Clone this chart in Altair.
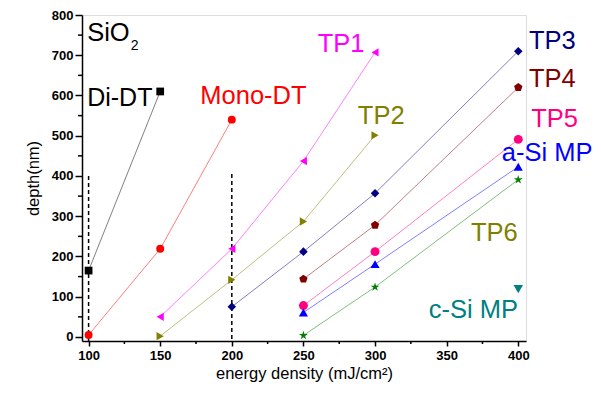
import altair as alt
import pandas as pd

# ---------------- data ----------------
series_names = ["Di-DT", "Mono-DT", "TP1", "TP2", "TP3", "TP4", "TP5", "a-Si MP", "TP6", "c-Si MP"]
series_colors = ["#000000", "#FF0000", "#FF00FF", "#808000", "#000080", "#800000",
                 "#FF0080", "#0000FF", "#008000", "#008080"]

di_x = [100, 150];                 di_y = [165, 610]
mono_x = [100, 150, 200];          mono_y = [5, 219, 540]
tp1_x = [150, 200, 250, 300];      tp1_y = [50, 219, 437, 707]
tp2_x = [150, 200, 250, 300];      tp2_y = [2, 142, 287, 501]
tp3_x = [200, 250, 300, 400];      tp3_y = [75, 212, 357, 710]
tp4_x = [250, 300, 400];           tp4_y = [144, 278, 620]
tp5_x = [250, 300, 400];           tp5_y = [78, 212, 491]
asi_x = [250, 300, 400];           asi_y = [61, 181, 423]
tp6_x = [250, 300, 400];           tp6_y = [4, 124, 391]
csi_x = [400];                     csi_y = [119]

all_x = [di_x, mono_x, tp1_x, tp2_x, tp3_x, tp4_x, tp5_x, asi_x, tp6_x, csi_x]
all_y = [di_y, mono_y, tp1_y, tp2_y, tp3_y, tp4_y, tp5_y, asi_y, tp6_y, csi_y]

# dashed reference lines
ref_x = [100, 200]
ref_top = [400, 405]

# labels
label_text = ["SiO", "2", "Di-DT", "Mono-DT", "TP1", "TP2", "TP3", "TP4", "TP5", "a-Si MP", "TP6", "c-Si MP"]
label_x = [99, 129.5, 99, 178, 260, 288, 407.5, 407.5, 409, 388.5, 367, 337.5]
label_y = [755, 722, 594, 598, 727, 549, 736, 640, 542, 458, 258, 68]
label_color = ["#000000", "#000000", "#000000", "#FF0000", "#FF00FF", "#808000", "#000080",
               "#800000", "#FF0080", "#0000FF", "#808000", "#008080"]
label_size = [25.5, 14, 25, 25.5, 25.5, 25.5, 25.5, 25.5, 25.5, 25.5, 25.5, 25.5]

x_major = [100, 150, 200, 250, 300, 350, 400]
x_minor = [125, 175, 225, 275, 325, 375]
y_major = [0, 100, 200, 300, 400, 500, 600, 700, 800]
y_minor = [50, 150, 250, 350, 450, 550, 650, 750]

# ---------------- frames ----------------
rows = []
for name, xs, ys in zip(series_names, all_x, all_y):
    for i, (a, b) in enumerate(zip(xs, ys)):
        rows.append({"series": name, "x": a, "y": b, "order": i})
df = pd.DataFrame(rows)

refs = pd.DataFrame({"x": ref_x, "top": ref_top})
labels = pd.DataFrame({"t": label_text, "x": label_x, "y": label_y, "c": label_color, "fs": label_size})
xmin = pd.DataFrame({"x": x_minor})
ymin = pd.DataFrame({"y": y_minor})

W, H = 444, 326
FONT = "Liberation Sans"

pentagon = "M0,-1L0.951,-0.309L0.588,0.809L-0.588,0.809L-0.951,-0.309Z"
star = ("M0,-1L0.2234,-0.3074L0.9511,-0.309L0.3614,0.1174L0.5878,0.809L0,0.38"
        "L-0.5878,0.809L-0.3614,0.1174L-0.9511,-0.309L-0.2234,-0.3074Z")
shapes = ["square", "circle", "triangle-left", "triangle-right", "diamond", pentagon,
          "circle", "triangle-up", star, "triangle-down"]
sizes = [60, 90, 90, 90, 110, 100, 90, 85, 130, 70]

xs = alt.Scale(domain=[95.4, 405.4], nice=False, zero=False)
ys = alt.Scale(domain=[-10, 800], nice=False, zero=False)
col = alt.Scale(domain=series_names, range=series_colors)

x_enc = alt.X("x:Q", scale=xs, title="energy density (mJ/cm²)",
              axis=alt.Axis(values=x_major, grid=False, tickSize=5, tickWidth=1.5, tickColor="black",
                            domainColor="black", domainWidth=1.5, labelFont=FONT, labelFontSize=13,
                            labelFontWeight="bold", labelColor="black", labelPadding=3,
                            titleFont=FONT, titleFontSize=16.5, titleFontWeight="normal",
                            titleColor="black", titlePadding=3))
y_enc = alt.Y("y:Q", scale=ys, title="depth(nm)",
              axis=alt.Axis(values=y_major, grid=False, tickSize=7, tickWidth=1.5, tickColor="black",
                            domainColor="black", domainWidth=1.5, labelFont=FONT, labelFontSize=13,
                            labelFontWeight="bold", labelColor="black", labelPadding=2,
                            titleFont=FONT, titleFontSize=16.5, titleFontWeight="normal",
                            titleColor="black", titlePadding=10))

lines = alt.Chart(df).mark_line(strokeWidth=1, opacity=0.5).encode(
    x=x_enc, y=y_enc,
    color=alt.Color("series:N", scale=col, legend=None),
    detail="series:N", order="order:Q")

points = alt.Chart(df).mark_point(filled=True, opacity=1, strokeWidth=0).encode(
    x=alt.X("x:Q", scale=xs), y=alt.Y("y:Q", scale=ys),
    color=alt.Color("series:N", scale=col, legend=None),
    shape=alt.Shape("series:N", scale=alt.Scale(domain=series_names, range=shapes), legend=None),
    size=alt.Size("series:N", scale=alt.Scale(domain=series_names, range=sizes), legend=None))

dashed = alt.Chart(refs).mark_rule(color="black", strokeWidth=1.5, strokeDash=[4, 3]).encode(
    x=alt.X("x:Q", scale=xs), y=alt.Y("top:Q", scale=ys), y2=alt.value(H))

texts = alt.Chart(labels).mark_text(align="left", baseline="middle", font=FONT).encode(
    x=alt.X("x:Q", scale=xs), y=alt.Y("y:Q", scale=ys), text="t:N",
    color=alt.Color("c:N", scale=None), size=alt.Size("fs:Q", scale=None))

xminor = alt.Chart(xmin).mark_rule(color="black", strokeWidth=1.5).encode(
    x=alt.X("x:Q", scale=xs), y=alt.value(H), y2=alt.value(H + 3))
yminor = alt.Chart(ymin).mark_rule(color="black", strokeWidth=1.5).encode(
    y=alt.Y("y:Q", scale=ys), x=alt.value(0), x2=alt.value(-4))

chart = alt.layer(lines, dashed, points, texts, xminor, yminor).properties(
    width=W, height=H,
    autosize=alt.AutoSizeParams(type="none"),
    padding={"left": 74, "top": 7, "right": 66, "bottom": 46},
).configure_view(stroke="black", strokeWidth=1.5).configure(background="white")

chart.save("out.html", embed_options={"renderer": "svg", "actions": False})
